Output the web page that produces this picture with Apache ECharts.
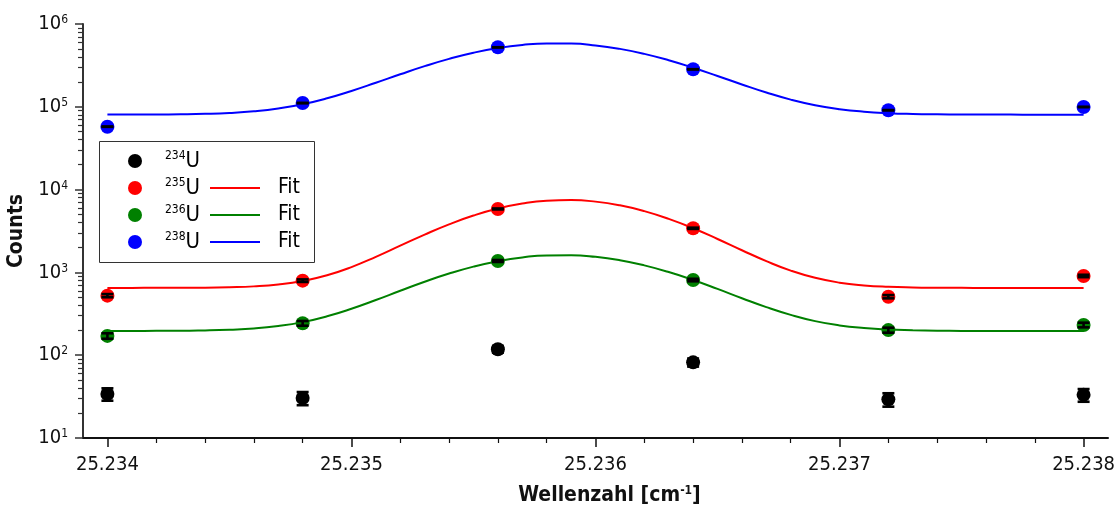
<!DOCTYPE html>
<html>
<head>
<meta charset="utf-8">
<script src="https://cdn.jsdelivr.net/npm/echarts@6/dist/echarts.min.js"></script>
<style>
html,body{margin:0;padding:0;background:#fff;}
#c{width:1118px;height:509px;}
</style>
</head>
<body>
<div id="c"></div>
<script>
// ---- data ----
const xPoints = [25.234, 25.2348, 25.2356, 25.2364, 25.2372, 25.238];
const u234 = [34, 30.4, 118, 82, 29.3, 33.2];
const u234Err = [5.8, 5.5, 10.9, 9.1, 5.4, 5.8];
const u235 = [524, 795, 5840, 3410, 509, 906];
const u235Err = [23, 28, 76, 58, 23, 30];
const u236 = [171, 243, 1374, 809, 201, 232];
const u236Err = [13, 16, 37, 28, 14, 15];
const u238 = [57500, 111000, 523000, 284000, 91000, 99500];
const u238Err = [240, 333, 723, 533, 302, 315];

const fitX = [25.2340,25.2341,25.2342,25.2343,25.2344,25.2345,25.2346,25.2347,25.2348,25.2349,
              25.2350,25.2351,25.2352,25.2353,25.2354,25.2355,25.2356,25.2357,25.2358,25.2359,
              25.2360,25.2361,25.2362,25.2363,25.2364,25.2365,25.2366,25.2367,25.2368,25.2369,
              25.2370,25.2371,25.2372,25.2373,25.2374,25.2375,25.2376,25.2377,25.2378,25.2379,25.2380];
const fit235 = [650,650,651,652,654,662,678,714,787,924,
                1160,1540,2101,2863,3807,4860,5902,6778,7335,7471,
                7158,6458,5497,4432,3410,2534,1853,1368,1051,860,
                752,697,670,658,653,651,650,650,650,650,650];
const fit236 = [196,196,197,197,199,203,210,225,251,295,
                364,464,600,771,968,1175,1367,1518,1605,1613,
                1542,1402,1215,1010,809,632,488,381,307,258,
                229,213,204,200,197.5,196.6,196,196,196,196,196];
const fit238 = [80453,80540,80750,81230,82250,84330,88290,95430,107480,126660,
                155280,195150,247070,309740,379370,449570,512190,558960,582830,580110,
                551240,500680,435840,365150,296520,235760,186210,148670,122130,104590,
                93660,87290,83790,81980,81100,80690,80520,80450,80420,80410,80400];

const xMajorTicks = [25.234, 25.235, 25.236, 25.237, 25.238];
const xMinorTicks = [25.2342,25.2344,25.2346,25.2348,25.2352,25.2354,25.2356,25.2358,
                     25.2362,25.2364,25.2366,25.2368,25.2372,25.2374,25.2376,25.2378];
const yMinorTicks = [20,30,40,50,60,70,80,90,200,300,400,500,600,700,800,900,
                     2000,3000,4000,5000,6000,7000,8000,9000,20000,30000,40000,50000,60000,70000,80000,90000,
                     200000,300000,400000,500000,600000,700000,800000,900000];

const legendItems = [
  {iso: '234', color: '#000000', fit: false},
  {iso: '235', color: '#ff0000', fit: true},
  {iso: '236', color: '#008000', fit: true},
  {iso: '238', color: '#0000ff', fit: true}
];

const FONT = '"DejaVu Sans Condensed", "DejaVu Sans", sans-serif';

function pairs(xs, ys){ return xs.map((x,i)=>[x, ys[i]]); }
function errData(xs, ys, es){ return xs.map((x,i)=>[x, ys[i]-es[i], ys[i]+es[i]]); }

function errRender(params, api){
  const x = api.value(0);
  const lo = api.coord([x, api.value(1)]);
  const hi = api.coord([x, api.value(2)]);
  const hw = 6;
  const st = {stroke:'#000', lineWidth:2.6};
  return {type:'group', children:[
    {type:'line', shape:{x1:lo[0], y1:lo[1], x2:hi[0], y2:hi[1]}, style:st},
    {type:'line', shape:{x1:lo[0]-hw, y1:lo[1], x2:lo[0]+hw, y2:lo[1]}, style:st},
    {type:'line', shape:{x1:hi[0]-hw, y1:hi[1], x2:hi[0]+hw, y2:hi[1]}, style:st}
  ]};
}

const chart = echarts.init(document.getElementById('c'), null, {renderer:'canvas'});

const series = [];
[[fit235,'#ff0000'],[fit236,'#008000'],[fit238,'#0000ff']].forEach(([d,c])=>{
  series.push({type:'line', data:pairs(fitX,d), showSymbol:false, smooth:true,
    lineStyle:{color:c, width:2}, itemStyle:{color:c}, z:2, silent:true, animation:false});
});
[[u234,u234Err,'#000000'],[u235,u235Err,'#ff0000'],[u236,u236Err,'#008000'],[u238,u238Err,'#0000ff']].forEach(([d,e,c])=>{
  series.push({type:'scatter', data:pairs(xPoints,d), symbol:'circle', symbolSize:14,
    itemStyle:{color:c, opacity:1}, z:3, animation:false});
  series.push({type:'custom', data:errData(xPoints,d,e), renderItem:errRender, z:4, animation:false,
    encode:{x:0, y:[1,2]}});
});

// legend as graphic
const lg = [];
lg.push({type:'rect', left:99, top:141, shape:{width:215, height:121},
  style:{fill:'#fff', stroke:'#333', lineWidth:1}, z:10});
const rowY = [161, 188, 215, 242];
legendItems.forEach((it,i)=>{
  const y = rowY[i];
  lg.push({type:'circle', shape:{cx:135, cy:y, r:7}, style:{fill:it.color}, z:11});
  lg.push({type:'text', x:165, y:y, z:11, style:{
    text:'{s|'+it.iso+'}{b|U}', verticalAlign:'middle', align:'left', fill:'#000',
    rich:{s:{fontSize:12, fontFamily:FONT, verticalAlign:'top', fill:'#000'},
          b:{fontSize:22, fontFamily:FONT, fill:'#000'}}}});
  if(it.fit){
    lg.push({type:'line', shape:{x1:210, y1:y, x2:260, y2:y}, style:{stroke:it.color, lineWidth:2}, z:11});
    lg.push({type:'text', x:278, y:y, z:11, style:{text:'Fit', fontSize:21, fontFamily:FONT,
      verticalAlign:'middle', align:'left', fill:'#000'}});
  }
});

const option = {
  animation:false,
  backgroundColor:'#fff',
  grid:{left:83, right:10, top:24, bottom:71, containLabel:false, outerBoundsMode:'none'},
  xAxis:[{
    type:'value', min:25.2339, max:25.2381,
    axisLine:{show:true, lineStyle:{color:'#111', width:2}},
    axisTick:{show:true, customValues:xMajorTicks, length:9, lineStyle:{color:'#111', width:1.5}},
    axisLabel:{show:true, customValues:xMajorTicks, margin:17, fontSize:20, fontFamily:FONT, color:'#111',
      formatter:v=>Number(v).toFixed(3)},
    splitLine:{show:false},
    name:'{t|Wellenzahl [cm}{s|-1}{t|]}', nameLocation:'middle', nameGap:47,
    nameTextStyle:{padding:[0,0,0,28], rich:{
      t:{fontSize:21, fontWeight:'bold', fontFamily:FONT, color:'#111'},
      s:{fontSize:12, fontWeight:'bold', fontFamily:FONT, color:'#111', verticalAlign:'top'}}}
  },{
    type:'value', min:25.2339, max:25.2381, position:'bottom',
    axisLine:{show:false},
    axisTick:{show:true, customValues:xMinorTicks, length:5, lineStyle:{color:'#111', width:1.2}},
    axisLabel:{show:false}, splitLine:{show:false}
  }],
  yAxis:[{
    type:'log', logBase:10, min:10, max:1000000,
    axisLine:{show:true, lineStyle:{color:'#333', width:2}},
    axisTick:{show:true, length:8, lineStyle:{color:'#333', width:1.5}},
    axisLabel:{show:true, margin:15, color:'#111',
      formatter:v=>'{b|10}{s|'+Math.round(Math.log10(v))+'}',
      rich:{b:{fontSize:20, fontFamily:FONT, color:'#111'},
            s:{fontSize:12, fontFamily:FONT, color:'#111', verticalAlign:'top'}}},
    splitLine:{show:false}, minorTick:{show:false}, minorSplitLine:{show:false},
    name:'Counts', nameLocation:'middle', nameGap:48, nameRotate:90,
    nameTextStyle:{fontSize:21, fontWeight:'bold', fontFamily:FONT, color:'#111'}
  },{
    type:'log', logBase:10, min:10, max:1000000, position:'left',
    axisLine:{show:false},
    axisTick:{show:true, customValues:yMinorTicks, length:5, lineStyle:{color:'#333', width:1.2}},
    axisLabel:{show:false}, splitLine:{show:false}
  }],
  series:series,
  graphic:lg
};
chart.setOption(option);
</script>
</body>
</html>
